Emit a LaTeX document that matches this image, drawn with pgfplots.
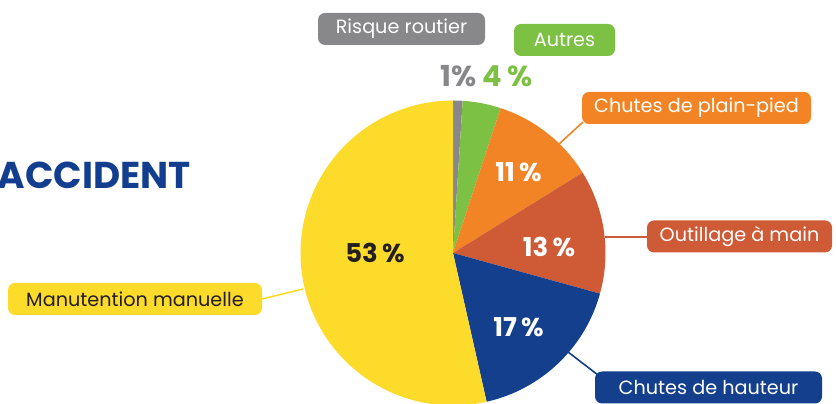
\documentclass[border=0pt]{standalone}
\usepackage{pgfplots}
\pgfplotsset{compat=1.18}
\usepackage{fontspec}
\setmainfont{Poppins}
\definecolor{cGray}{HTML}{88888B}
\definecolor{cGreen}{HTML}{7CC143}
\definecolor{cOrange}{HTML}{F28425}
\definecolor{cRed}{HTML}{CE5A36}
\definecolor{cBlue}{HTML}{143F8C}
\definecolor{cYellow}{HTML}{FDDB2B}
\definecolor{cTitle}{HTML}{133E8F}
\definecolor{cDark}{HTML}{231F20}
% data (percent)
\def\vRisque{1}
\def\vAutres{4}
\def\vPlain{11}
\def\vOutil{13}
\def\vHaut{17}
\def\vManu{53}
\def\vTot{99}
\def\cx{453}
\def\cy{151}
\def\R{152.5bp}
\newcommand{\slice}[3]{% start cumulative, end cumulative, colour
  \fill[#3] (axis cs:\cx,\cy) -- ++({90-(360/\vTot)*(#1)}:\R)
    arc[start angle={90-(360/\vTot)*(#1)}, end angle={90-(360/\vTot)*(#2)}, radius=\R] -- cycle;}
\tikzset{lab/.style={rounded corners=7bp, inner sep=0pt, minimum height=32bp,
   font=\fontsize{19.3}{19.3}\selectfont, text=white}}
\begin{document}
\begin{tikzpicture}
\useasboundingbox (0,0) rectangle (836bp,404bp);
\clip (0,0) rectangle (836bp,404bp);
\begin{axis}[at={(0,0)}, anchor=south west, scale only axis,
  width=836bp, height=404bp, xmin=0, xmax=836, ymin=0, ymax=404,
  hide axis, clip=false]
\slice{0}{\vRisque}{cGray}
\slice{\vRisque}{\vRisque+\vAutres}{cGreen}
\slice{\vRisque+\vAutres}{\vRisque+\vAutres+\vPlain}{cOrange}
\slice{\vRisque+\vAutres+\vPlain}{\vRisque+\vAutres+\vPlain+\vOutil}{cRed}
\slice{\vRisque+\vAutres+\vPlain+\vOutil}{\vRisque+\vAutres+\vPlain+\vOutil+\vHaut}{cBlue}
\slice{\vRisque+\vAutres+\vPlain+\vOutil+\vHaut}{\vTot}{cYellow}
% leader lines
\draw[cOrange, line width=1.6bp] (axis cs:558,259) -- (axis cs:583,282);
\draw[cBlue, line width=1.6bp] (axis cs:568,52) -- (axis cs:598,29);
\draw[cYellow, line width=1.6bp] (axis cs:262,105) -- (axis cs:303,115);
\draw[cRed, line width=1.6bp] (axis cs:605,167) -- (axis cs:648,167);
% label boxes
\node[lab, fill=cGray, minimum width=167bp] at (axis cs:401.5,375) {Risque routier};
\node[lab, fill=cGreen, minimum width=101bp] at (axis cs:564.5,364) {Autres};
\node[lab, fill=cOrange, minimum width=229bp] at (axis cs:696.5,296) {Chutes de plain-pied};
\node[lab, fill=cRed, minimum width=185bp] at (axis cs:739.5,167.5) {Outillage à main};
\node[lab, fill=cYellow, text=cDark, minimum width=254bp] at (axis cs:135,105) {Manutention manuelle};
\node[lab, fill=cBlue, minimum width=227bp] at (axis cs:708.5,16.5) {Chutes de hauteur};
% percentages
\node[font=\fontsize{29}{29}\selectfont\bfseries, text=cGray] at (axis cs:458.5,328) {\vRisque\%};
\node[font=\fontsize{29}{29}\selectfont\bfseries, text=cGreen] at (axis cs:507.5,328) {\vAutres\,\%};
\node[font=\fontsize{26}{26}\selectfont\bfseries, text=white] at (axis cs:518.5,232) {\vPlain\,\%};
\node[font=\fontsize{26}{26}\selectfont\bfseries, text=white] at (axis cs:549,157.5) {\vOutil\,\%};
\node[font=\fontsize{26}{26}\selectfont\bfseries, text=white] at (axis cs:518.5,76.5) {\vHaut\,\%};
\node[font=\fontsize{26}{26}\selectfont\bfseries, text=cDark] at (axis cs:375,151) {\vManu\,\%};
% title fragment
\node[anchor=base east, inner sep=0pt, font=\fontsize{37.5}{37.5}\selectfont\bfseries, text=cTitle] at (axis cs:191,215) {ACCIDENT};
\end{axis}
\end{tikzpicture}
\end{document}
